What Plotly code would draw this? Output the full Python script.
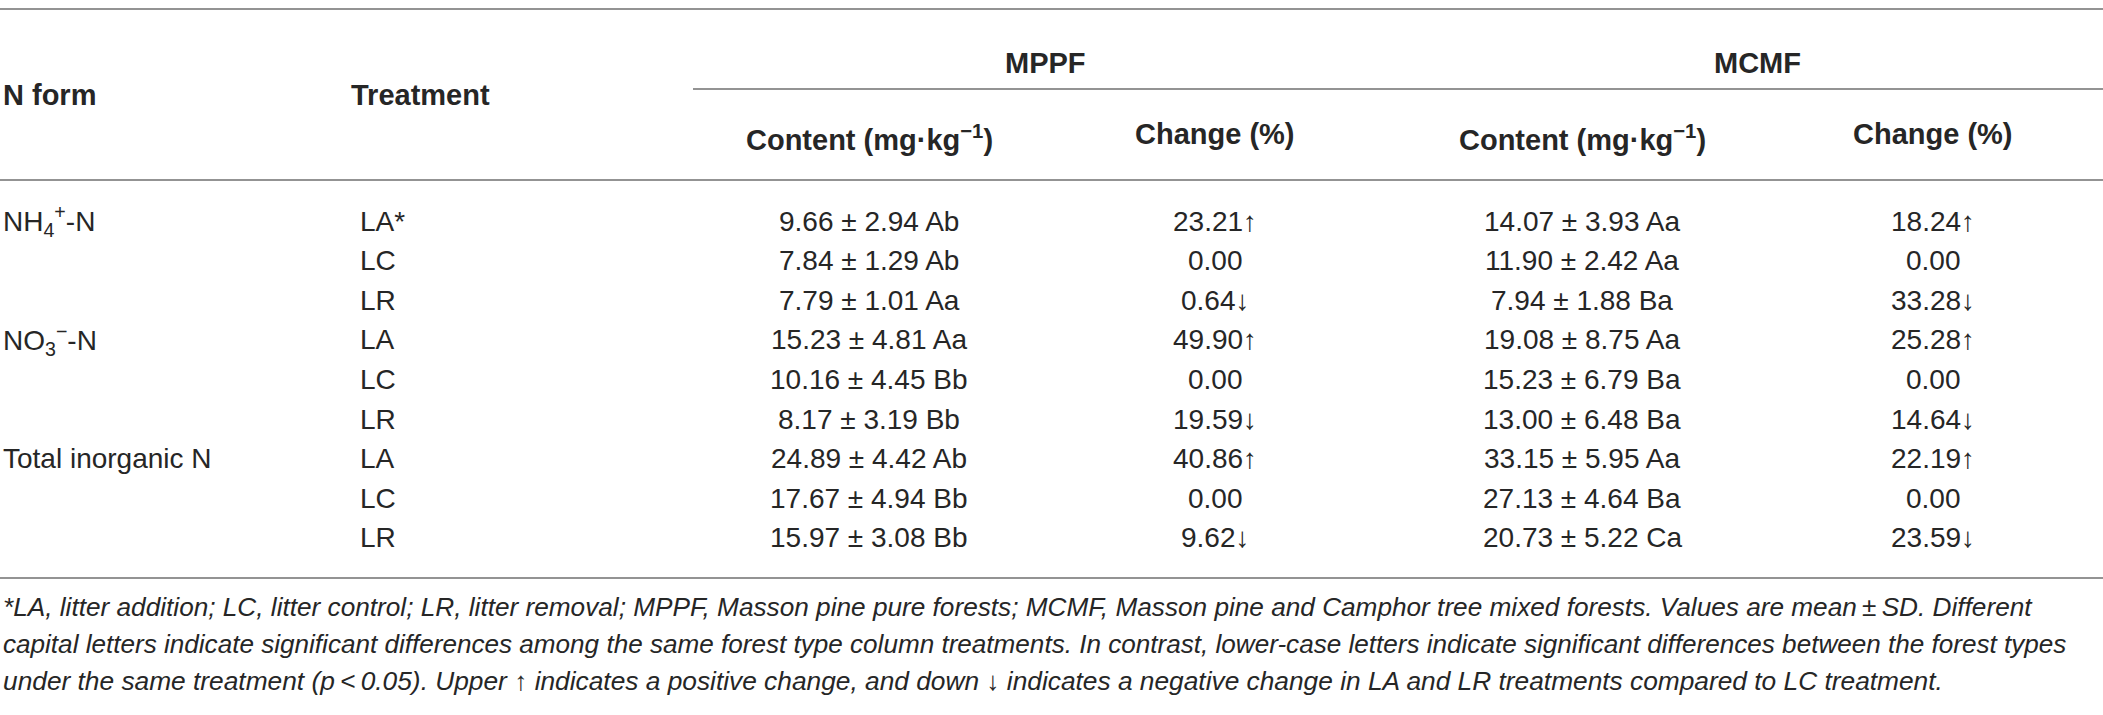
import plotly.graph_objects as go

W, H = 2103, 715

# ---------------- data ----------------
group_labels = ["MPPF", "MCMF"]
sub_labels = ["Content (mg·kg<sup>−1</sup>)", "Change (%)"]
n_forms = ["NH<sub>4</sub><sup>+</sup>-N", "NO<sub>3</sub><sup>−</sup>-N", "Total inorganic N"]
treatments = ["LA*", "LC", "LR", "LA", "LC", "LR", "LA", "LC", "LR"]

mppf_mean = ["9.66", "7.84", "7.79", "15.23", "10.16", "8.17", "24.89", "17.67", "15.97"]
mppf_sd = ["2.94", "1.29", "1.01", "4.81", "4.45", "3.19", "4.42", "4.94", "3.08"]
mppf_letters = ["Ab", "Ab", "Aa", "Aa", "Bb", "Bb", "Ab", "Bb", "Bb"]
mppf_change = ["23.21", "0.00", "0.64", "49.90", "0.00", "19.59", "40.86", "0.00", "9.62"]
mppf_dir = ["up", "", "down", "up", "", "down", "up", "", "down"]

mcmf_mean = ["14.07", "11.90", "7.94", "19.08", "15.23", "13.00", "33.15", "27.13", "20.73"]
mcmf_sd = ["3.93", "2.42", "1.88", "8.75", "6.79", "6.48", "5.95", "4.64", "5.22"]
mcmf_letters = ["Aa", "Aa", "Ba", "Aa", "Ba", "Ba", "Aa", "Ba", "Ca"]
mcmf_change = ["18.24", "0.00", "33.28", "25.28", "0.00", "14.64", "22.19", "0.00", "23.59"]
mcmf_dir = ["up", "", "down", "up", "", "down", "up", "", "down"]

footnotes = [
    "*LA, litter addition; LC, litter control; LR, litter removal; MPPF, Masson pine pure forests; MCMF, Masson pine and Camphor tree mixed forests. Values are mean\u2009±\u2009SD. Different",
    "capital letters indicate significant differences among the same forest type column treatments. In contrast, lower-case letters indicate significant differences between the forest types",
    "under the same treatment (p\u2009<\u20090.05). Upper \u2191 indicates a positive change, and down \u2193 indicates a negative change in LA and LR treatments compared to LC treatment.",
]
foot_sizes = [26.2, 26.1, 26.3]

# ---------------- layout constants ----------------
FONT = "Liberation Sans"
TXT = "#262626"
RULE = "#939393"
BODY = 28
HEAD = 29

x_nform = 1
x_treat_head = 349
x_treat = 358
x_cols = [869, 1215, 1582, 1933]
x_groups = [1045, 1757]
y_group = 63
y_sub = 134
y_head = 95
y_row0, dy_row = 221, 39.6
y_foot = [607, 644, 681]

arrow = {"up": "\u2191", "down": "\u2193", "": ""}

fig = go.Figure()
ann = []


def add(text, x, y, anchor="center", size=BODY, bold=False, italic=False):
    if italic:
        text = "<i>" + text + "</i>"
    ann.append(dict(
        text=text, x=x, y=y, xref="x", yref="y", xanchor=anchor, yanchor="middle",
        showarrow=False,
        font=dict(family=FONT, size=size, color=TXT, weight="bold" if bold else "normal"),
    ))


# headers
add("N form", x_nform, y_head, "left", HEAD, bold=True)
add("Treatment", x_treat_head, y_head, "left", HEAD, bold=True)
for g, xg in zip(group_labels, x_groups):
    add(g, xg, y_group, "center", HEAD, bold=True)
for i, xc in enumerate(x_cols):
    add(sub_labels[i % 2], xc, y_sub + (4 if i % 2 == 0 else 0), "center", HEAD, bold=True)

# body
for k, nf in enumerate(n_forms):
    add(nf, x_nform, y_row0 + 3 * k * dy_row, "left", BODY)
for r, t in enumerate(treatments):
    y = y_row0 + r * dy_row
    add(t, x_treat, y, "left", BODY)
    add(f"{mppf_mean[r]} ± {mppf_sd[r]} {mppf_letters[r]}", x_cols[0], y)
    add(mppf_change[r] + arrow[mppf_dir[r]], x_cols[1], y)
    add(f"{mcmf_mean[r]} ± {mcmf_sd[r]} {mcmf_letters[r]}", x_cols[2], y)
    add(mcmf_change[r] + arrow[mcmf_dir[r]], x_cols[3], y)

# footnotes
for line, yf, fs in zip(footnotes, y_foot, foot_sizes):
    add(line, 1, yf, "left", fs, italic=True)

# rules
shapes = []
for (x0, x1, y) in [(0, W, 9), (693, W, 89), (0, W, 180), (0, W, 578)]:
    shapes.append(dict(type="line", xref="x", yref="y", x0=x0, x1=x1, y0=y, y1=y,
                       line=dict(color=RULE, width=2)))

fig.update_layout(
    width=W, height=H,
    margin=dict(l=0, r=0, t=0, b=0),
    paper_bgcolor="white", plot_bgcolor="white",
    xaxis=dict(range=[0, W], visible=False, fixedrange=True),
    yaxis=dict(range=[H, 0], visible=False, fixedrange=True),
    annotations=ann, shapes=shapes, showlegend=False,
)
fig.write_html(
    "out.html",
    config={"displayModeBar": False, "staticPlot": True},
    post_script="document.body.style.margin='0';document.body.style.overflow='hidden';",
)
